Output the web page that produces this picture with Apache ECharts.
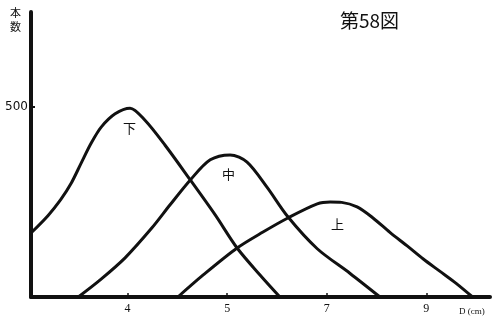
<!DOCTYPE html>
<html>
<head>
<meta charset="utf-8">
<script src="https://cdn.jsdelivr.net/npm/echarts@6/dist/echarts.min.js"></script>
<style>
    html, body { margin: 0; padding: 0; background: #fff; }
    #main { width: 492px; height: 323px; }
</style>
</head>
<body>
<div id="main"></div>
<script type="text/javascript">
    // 直径 D (cm) と本数
    var xTickValues = [3, 5, 7, 9];
    var xTickLabels = ['4', '5', '7', '9'];
    var yTickValues = [500];

    var shitaD = [1.08, 1.40, 1.66, 1.87, 2.07, 2.27, 2.47, 2.75, 3.05, 3.35, 3.75, 4.26, 4.76, 5.20, 5.66, 6.06];
    var shitaN = [171, 214, 257, 300, 353, 405, 447, 482, 497, 465, 400, 308, 216, 129, 58, 0];

    var nakaD = [2.01, 2.45, 2.95, 3.49, 3.85, 4.26, 4.66, 5.06, 5.40, 5.80, 6.22, 6.81, 7.47, 8.07];
    var nakaN = [0, 45, 103, 182, 242, 308, 361, 374, 355, 289, 211, 127, 62, 0];

    var ueD = [4.01, 4.52, 5.20, 5.72, 6.22, 6.81, 7.07, 7.30, 7.61, 7.93, 8.27, 8.61, 8.94, 9.27, 9.60, 9.93];
    var ueN = [0, 58, 129, 171, 208, 245, 250, 249, 237, 208, 170, 135, 100, 68, 36, 0];

    function pairs(xs, ys) {
        return xs.map(function (x, i) { return [x, ys[i]]; });
    }

    var myChart = echarts.init(document.getElementById('main'));

    var lineStyle = { color: '#111', width: 3 };

    var option = {
        animation: false,
        backgroundColor: '#fff',
        grid: { left: 31, right: 2, top: 12, bottom: 26 },
        xAxis: {
            type: 'value',
            min: 1.06,
            max: 10.28,
            splitLine: { show: false },
            axisLine: { lineStyle: { color: '#111', width: 4 } },
            axisTick: {
                show: true,
                inside: true,
                length: 4,
                customValues: xTickValues,
                lineStyle: { color: '#111', width: 1.5 }
            },
            axisLabel: {
                customValues: xTickValues,
                margin: 6,
                fontSize: 12,
                fontFamily: 'Liberation Serif',
                color: '#111',
                formatter: function (v) {
                    var i = xTickValues.indexOf(v);
                    return i >= 0 ? xTickLabels[i] : '';
                }
            }
        },
        yAxis: {
            type: 'value',
            min: 0,
            max: 750,
            splitLine: { show: false },
            axisLine: { show: true, lineStyle: { color: '#111', width: 4 } },
            axisTick: {
                show: true,
                inside: true,
                length: 4,
                customValues: yTickValues,
                lineStyle: { color: '#111', width: 2 }
            },
            axisLabel: {
                customValues: yTickValues,
                margin: 3,
                fontSize: 12,
                fontFamily: 'DejaVu Sans',
                color: '#111'
            }
        },
        graphic: [
            {
                type: 'text', left: 340, top: 11,
                style: { text: '第58図', font: '19px "Noto Sans CJK JP"', fill: '#111' }
            },
            {
                type: 'text', left: 10, top: 6,
                style: { text: '本\n数', font: '11px "Noto Sans CJK JP"', lineHeight: 14, fill: '#111' }
            },
            {
                type: 'text', left: 123, top: 122,
                style: { text: '下', font: '13px "Noto Sans CJK JP"', fill: '#111' }
            },
            {
                type: 'text', left: 222, top: 168,
                style: { text: '中', font: '13px "Noto Sans CJK JP"', fill: '#111' }
            },
            {
                type: 'text', left: 331, top: 218,
                style: { text: '上', font: '13px "Noto Sans CJK JP"', fill: '#111' }
            },
            {
                type: 'text', left: 459, top: 307,
                style: { text: 'D (cm)', font: '9px "Liberation Serif"', fill: '#111' }
            }
        ],
        series: [
            {
                name: '下', type: 'line', smooth: 0.3, symbol: 'none',
                lineStyle: lineStyle, data: pairs(shitaD, shitaN)
            },
            {
                name: '中', type: 'line', smooth: 0.3, symbol: 'none',
                lineStyle: lineStyle, data: pairs(nakaD, nakaN)
            },
            {
                name: '上', type: 'line', smooth: 0.3, symbol: 'none',
                lineStyle: lineStyle, data: pairs(ueD, ueN)
            }
        ]
    };

    myChart.setOption(option);
</script>
</body>
</html>
